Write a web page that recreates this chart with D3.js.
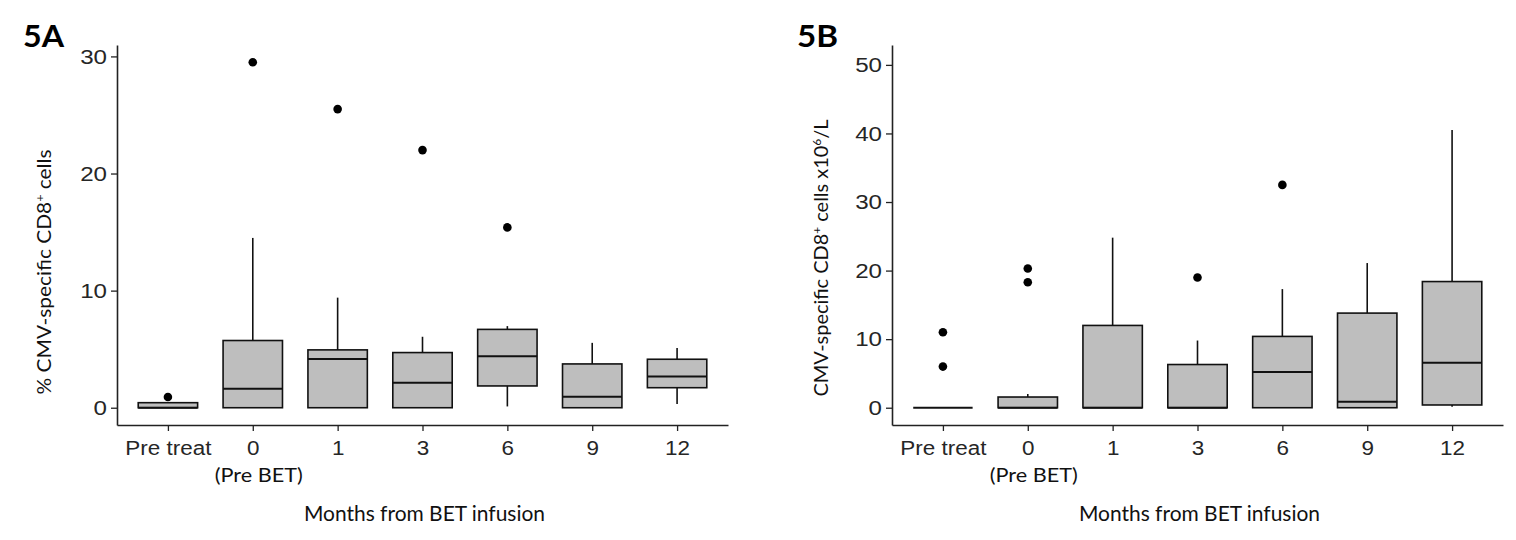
<!DOCTYPE html>
<html><head><meta charset="utf-8">
<script src="https://cdn.jsdelivr.net/npm/d3@7"></script>
<style>body{margin:0;background:#fff}</style></head>
<body>
<svg id="c" width="1516" height="540"></svg>
<script>
const categories = ["Pre treat","0","1","3","6","9","12"];
const yTicksA = [0,10,20,30];
const yTicksB = [0,10,20,30,40,50];

// Panel A: % CMV-specific CD8+ cells
const aWhiskerLow  = [0,    0,    0,    0,    0.11, 0,    0.31];
const aQ1          = [0,    0,    0,    0,    1.86, 0,    1.71];
const aMedian      = [0,    1.63, 4.17, 2.14, 4.40, 0.94, 2.66];
const aQ3          = [0.43, 5.74, 4.94, 4.71, 6.69, 3.74, 4.14];
const aWhiskerHigh = [0.43, 14.5, 9.4,  6.06, 6.97, 5.54, 5.11];
const aOutliers    = [[0.92],[29.5],[25.5],[22.0],[15.4],[],[]];

// Panel B: CMV-specific CD8+ cells x10^6/L
const bWhiskerLow  = [0, 0,    0,    0,    0,    0,    0.15];
const bQ1          = [0, 0,    0,    0,    0,    0,    0.4];
const bMedian      = [0, 0,    0,    0,    5.2,  0.87, 6.55];
const bQ3          = [0, 1.56, 12.0, 6.3,  10.4, 13.8, 18.4];
const bWhiskerHigh = [0, 2.0,  24.8, 9.8,  17.3, 21.1, 40.5];
const bOutliers    = [[6.0,11.0],[18.3,20.3],[],[19.0],[32.5],[],[]];

const svg = d3.select("#c");
const tickFont = "'Liberation Sans', Arial, sans-serif";
const labFont = "Lato, 'Open Sans', sans-serif";

function panel(opt){
  const g = svg.append("g");
  const x = d3.scalePoint().domain(categories).range([opt.x0, opt.x1]).padding(0.6);
  const y = d3.scaleLinear().domain(opt.yDomain).range([425, 45]);
  const bw = x.step()*0.7;

  // axes
  const xa = g.append("g").attr("transform","translate(0,425)")
    .call(d3.axisBottom(x).tickSize(6).tickSizeOuter(0));
  const ya = g.append("g").attr("transform",`translate(${opt.x0},0)`)
    .call(d3.axisLeft(y).tickValues(opt.ticks).tickSize(6).tickSizeOuter(0));
  [xa,ya].forEach(a=>{
    a.select(".domain").attr("stroke","#222").attr("stroke-width",1.6);
    a.selectAll(".tick line").attr("stroke","#222").attr("stroke-width",1.3);
    a.selectAll(".tick text").attr("font-family",tickFont).attr("font-size",21).attr("fill","#262626");
  });
  xa.selectAll(".tick text").attr("dy","0.71em").attr("y",15).attr("transform","scale(1.07,1)")
    .attr("x",0);
  ya.selectAll(".tick text").attr("x",-10/1.15).attr("transform","scale(1.15,1)");

  const data = categories.map((c,i)=>({c, lo:opt.wl[i], q1:opt.q1[i], med:opt.med[i], q3:opt.q3[i], hi:opt.wh[i], out:opt.out[i]}));
  const bx = g.append("g");
  data.forEach(d=>{
    const cx = x(d.c);
    if (d.hi > d.q3) bx.append("line").attr("x1",cx).attr("x2",cx).attr("y1",y(d.q3)).attr("y2",y(d.hi)).attr("stroke","#111").attr("stroke-width",1.6);
    if (d.lo < d.q1) bx.append("line").attr("x1",cx).attr("x2",cx).attr("y1",y(d.q1)).attr("y2",y(d.lo)).attr("stroke","#111").attr("stroke-width",1.6);
    bx.append("rect").attr("x",cx-bw/2).attr("width",bw).attr("y",y(d.q3)).attr("height",Math.max(0,y(d.q1)-y(d.q3)))
      .attr("fill","#BEBEBE").attr("stroke","#111").attr("stroke-width",1.6);
    bx.append("line").attr("x1",cx-bw/2).attr("x2",cx+bw/2).attr("y1",y(d.med)).attr("y2",y(d.med)).attr("stroke","#111").attr("stroke-width",2);
    d.out.forEach(v=>bx.append("circle").attr("cx",cx).attr("cy",y(v)).attr("r",4.3).attr("fill","#000"));
  });

  // "(Pre BET)" sub-label
  g.append("text").attr("x",x("0")+6).attr("y",482).attr("text-anchor","middle")
    .attr("font-family",labFont).attr("font-size",20).attr("fill","#111")
    .attr("textLength",88).attr("lengthAdjust","spacingAndGlyphs").text("(Pre BET)");
  // x title
  g.append("text").attr("x",(opt.x0+opt.x1)/2+2).attr("y",521).attr("text-anchor","middle")
    .attr("font-family",labFont).attr("font-size",21).attr("fill","#111")
    .attr("textLength",241).attr("lengthAdjust","spacingAndGlyphs").text("Months from BET infusion");
  // y title
  const yt = g.append("text").attr("transform",`translate(${opt.ylx},${opt.yly}) rotate(-90)`)
    .attr("text-anchor","middle").attr("font-family",labFont).attr("font-size",20).attr("fill","#111")
    .attr("textLength",opt.ylLen).attr("lengthAdjust","spacingAndGlyphs");
  opt.ylParts.forEach(p=>{
    const t = yt.append("tspan").text(p[0]);
    if (p[1]) t.attr("baseline-shift","super").attr("font-size",12);
  });
  // panel letter
  g.append("text").attr("x",opt.lx).attr("y",47).attr("font-family",labFont).attr("font-weight",700)
    .attr("font-size",30).attr("fill","#000").attr("textLength",41).attr("lengthAdjust","spacingAndGlyphs").text(opt.letter);
}

panel({x0:117, x1:728, yDomain:[-1.475,30.975], ticks:yTicksA,
  wl:aWhiskerLow, q1:aQ1, med:aMedian, q3:aQ3, wh:aWhiskerHigh, out:aOutliers,
  ylx:51, yly:272, ylLen:245, ylParts:[["% CMV-specific CD8"],["+",1],[" cells"]],
  lx:23, letter:"5A"});
panel({x0:892, x1:1503, yDomain:[-2.52,52.9], ticks:yTicksB,
  wl:bWhiskerLow, q1:bQ1, med:bMedian, q3:bQ3, wh:bWhiskerHigh, out:bOutliers,
  ylx:828, yly:258, ylLen:277, ylParts:[["CMV-specific CD8"],["+",1],[" cells x10"],["6",1],["/L"]],
  lx:797, letter:"5B"});
</script>
</body></html>
